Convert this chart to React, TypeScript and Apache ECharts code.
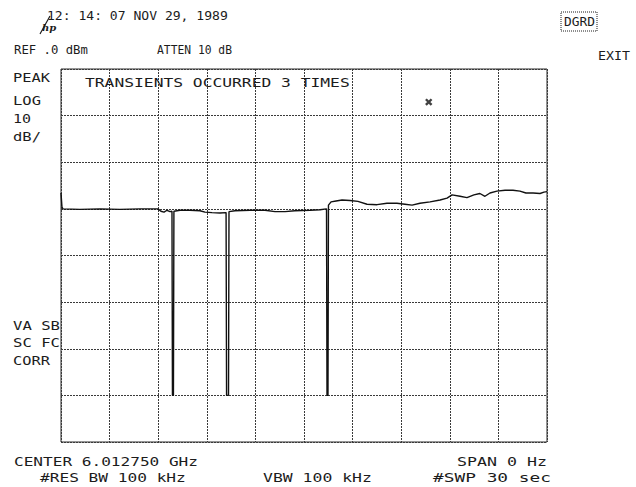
import React, { useEffect, useRef } from "react";
import * as echarts from "echarts";

const traceTime = [
  0.0, 0.06, 0.12, 1.17, 2.41, 3.64, 4.88, 5.99, 6.17, 6.36, 6.54, 6.73, 6.85, 6.88, 6.94, 6.97,
  7.35, 7.96, 8.58, 8.89, 9.32, 9.81, 10.19, 10.22, 10.34, 10.37, 10.74, 11.67, 12.59, 13.21,
  13.83, 14.44, 15.37, 15.99, 16.39, 16.42, 16.48, 16.51, 16.67, 16.98, 17.35, 17.84, 18.33,
  18.89, 19.51, 20.12, 20.74, 21.23, 21.67, 22.16, 22.78, 23.4, 23.83, 24.14, 24.63, 25.06,
  25.49, 25.86, 26.17, 26.48, 26.91, 27.41, 27.9, 28.33, 28.7, 29.14, 29.57, 29.81, 30.0,
];
const traceLevel = [
  -26.6, -29.6, -30.0, -30.1, -30.0, -30.1, -30.0, -30.0, -30.5, -30.7, -30.3, -30.6, -30.5, -70, -70, -30.5,
  -30.3, -30.3, -30.4, -30.7, -30.8, -30.9, -30.8, -70, -70, -30.6, -30.4, -30.3, -30.3, -30.6,
  -30.6, -30.4, -30.3, -30.2, -30.0, -70, -70, -29.2, -28.5, -28.3, -28.1, -28.2, -28.4,
  -29.0, -29.1, -28.8, -28.8, -29.0, -29.2, -28.8, -28.5, -28.1, -27.7, -27.0, -27.3, -27.6,
  -27.0, -26.7, -27.3, -26.6, -26.2, -26.0, -26.0, -26.2, -26.6, -26.6, -26.7, -26.4, -26.3,
];
// Marker position (time s, level dBm)
const markerPoint = [22.7, -7.1];

// Axis settings
const sweepSeconds = 30;
const refLevel = 0;
const dbPerDiv = 10;
const divisions = 8;

// Screen annotations
const dateText = "12: 14: 07 NOV 29, 1989";
const refText = "REF .0 dBm";
const attenText = "ATTEN 10 dB";
const softKey = "DGRD";
const exitText = "EXIT";
const leftTop = ["PEAK", "LOG", "10", "dB/"];
const leftBottom = ["VA SB", "SC FC", "CORR"];
const messageText = "TRANSIENTS OCCURRED 3 TIMES";
const centerText = "CENTER 6.012750 GHz";
const spanText = "SPAN 0 Hz";
const rbwText = "#RES BW 100 kHz";
const vbwText = "VBW 100 kHz";
const swpText = "#SWP 30 sec";

const FONT = '"DejaVu Sans Mono"';
const INK = "#1c1c1c";

function label(text: string, left: number, right: number, cy: number, fs = 12) {
  const natural = text.length * 0.602 * fs;
  return {
    type: "text",
    x: left,
    y: cy,
    scaleX: (right - left) / natural,
    z: 10,
    style: {
      text,
      font: `${fs}px ${FONT}`,
      fill: INK,
      align: "left",
      verticalAlign: "middle",
    },
  };
}

export default function App() {
  const ref = useRef<HTMLDivElement>(null);
  useEffect(() => {
    if (!ref.current) return;
    const chart = echarts.init(ref.current, null, { renderer: "svg" });
    const data = traceTime.map((t, i) => [t, traceLevel[i]]);
    const grid = { color: "#3a3a3a", type: [2, 1] as any, width: 1 };
    chart.setOption({
      animation: false,
      backgroundColor: "#ffffff",
      grid: {
        left: 61,
        top: 69,
        width: 486,
        height: 373,
        show: true,
        borderColor: "#2a2a2a",
        borderWidth: 1,
      },
      xAxis: {
        type: "value",
        min: 0,
        max: sweepSeconds,
        interval: sweepSeconds / 10,
        axisLine: { show: false },
        axisTick: { show: false },
        axisLabel: { show: false },
        splitLine: { show: true, lineStyle: grid },
      },
      yAxis: {
        type: "value",
        min: refLevel - dbPerDiv * divisions,
        max: refLevel,
        interval: dbPerDiv,
        axisLine: { show: false },
        axisTick: { show: false },
        axisLabel: { show: false },
        splitLine: { show: true, lineStyle: grid },
      },
      series: [
        {
          type: "line",
          data,
          showSymbol: false,
          symbol: "none",
          lineStyle: { color: "#111", width: 1.4 },
          z: 5,
        },
        {
          type: "scatter",
          data: [markerPoint],
          symbol: "path://M3.5,0h3v10h-3z M0,3.5h10v3h-10z",
          symbolRotate: 45,
          symbolSize: 8,
          itemStyle: { color: "#111" },
          z: 6,
        },
      ],
      graphic: [
        // hp logo
        {
          type: "line",
          shape: { x1: 40, y1: 34, x2: 50, y2: 16 },
          style: { stroke: INK, lineWidth: 1.2 },
        },
        {
          type: "text",
          x: 42,
          y: 27,
          style: {
            text: "hp",
            font: `italic bold 10px "DejaVu Serif"`,
            fill: INK,
            align: "left",
            verticalAlign: "middle",
          },
        },
        label(dateText, 47, 228, 16),
        label(refText, 14, 88, 50),
        label(attenText, 157, 232, 50),
        {
          type: "rect",
          shape: { x: 561, y: 12, width: 36, height: 19 },
          style: { fill: "none", stroke: INK, lineWidth: 1, lineDash: [1, 1] },
        },
        label(softKey, 564, 595, 22, 12),
        label(exitText, 598, 630, 56),
        label(leftTop[0], 13, 50, 78),
        label(leftTop[1], 13, 41, 101),
        label(leftTop[2], 13, 31, 119),
        label(leftTop[3], 13, 41, 137),
        label(messageText, 85, 350, 83),
        label(leftBottom[0], 13, 60, 326),
        label(leftBottom[1], 13, 60, 343),
        label(leftBottom[2], 13, 50, 361),
        label(centerText, 14, 198, 462),
        label(spanText, 457, 547, 462),
        label(rbwText, 40, 186, 478),
        label(vbwText, 263, 372, 478),
        label(swpText, 433, 551, 478),
      ],
    });
    return () => chart.dispose();
  }, []);
  return (
    <div
      ref={ref}
      style={{ position: "absolute", left: 0, top: 0, width: 636, height: 487, background: "#fff" }}
    />
  );
}
